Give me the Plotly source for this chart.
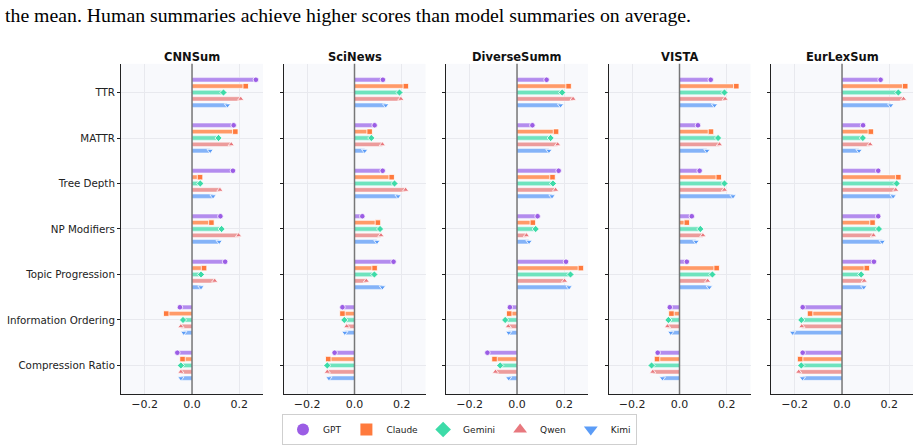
import plotly.graph_objects as go

# ---------------- data ----------------
metrics = ["TTR", "MATTR", "Tree Depth", "NP Modifiers", "Topic Progression",
           "Information Ordering", "Compression Ratio"]
datasets = ["CNNSum", "SciNews", "DiverseSumm", "VISTA", "EurLexSum"]
models = ["GPT", "Claude", "Gemini", "Qwen", "Kimi"]

# values per model in metric order
cnnsum = {
    "GPT":    [0.270, 0.176, 0.173, 0.120, 0.140, -0.051, -0.062],
    "Claude": [0.227, 0.183, 0.034, 0.082, 0.051, -0.109, -0.040],
    "Gemini": [0.133, 0.112, 0.035, 0.125, 0.038, -0.038, -0.047],
    "Qwen":   [0.206, 0.166, 0.118, 0.197, 0.096, -0.047, -0.047],
    "Kimi":   [0.150, 0.077, 0.089, 0.115, 0.038, -0.035, -0.047],
}
scinews = {
    "GPT":    [0.120, 0.085, 0.119, 0.033, 0.165, -0.051, -0.084],
    "Claude": [0.217, 0.064, 0.157, 0.099, 0.085, -0.051, -0.111],
    "Gemini": [0.190, 0.071, 0.169, 0.108, 0.084, -0.043, -0.115],
    "Qwen":   [0.196, 0.118, 0.216, 0.112, 0.050, -0.033, -0.115],
    "Kimi":   [0.132, 0.043, 0.184, 0.095, 0.118, -0.041, -0.108],
}
diversesumm = {
    "GPT":    [0.125, 0.065, 0.176, 0.087, 0.207, -0.030, -0.125],
    "Claude": [0.218, 0.165, 0.150, 0.067, 0.270, -0.033, -0.095],
    "Gemini": [0.191, 0.142, 0.152, 0.079, 0.226, -0.050, -0.071],
    "Qwen":   [0.237, 0.172, 0.163, 0.040, 0.201, -0.037, -0.091],
    "Kimi":   [0.184, 0.135, 0.148, 0.051, 0.220, -0.035, -0.035],
}
vista = {
    "GPT":    [0.132, 0.078, 0.085, 0.052, 0.031, -0.041, -0.092],
    "Claude": [0.240, 0.133, 0.166, 0.031, 0.157, -0.034, -0.095],
    "Gemini": [0.190, 0.163, 0.190, 0.088, 0.139, -0.047, -0.118],
    "Qwen":   [0.193, 0.169, 0.190, 0.099, 0.119, -0.051, -0.113],
    "Kimi":   [0.148, 0.116, 0.226, 0.070, 0.126, -0.037, -0.072],
}
eurlexsum = {
    "GPT":    [0.163, 0.089, 0.153, 0.153, 0.135, -0.166, -0.166],
    "Claude": [0.267, 0.122, 0.238, 0.129, 0.105, -0.135, -0.177],
    "Gemini": [0.238, 0.088, 0.231, 0.156, 0.081, -0.172, -0.172],
    "Qwen":   [0.260, 0.119, 0.227, 0.133, 0.094, -0.170, -0.183],
    "Kimi":   [0.206, 0.072, 0.216, 0.170, 0.092, -0.209, -0.167],
}
panel_data = [cnnsum, scinews, diversesumm, vista, eurlexsum]

x_ticks = [-0.2, 0.0, 0.2]

# ---------------- style ----------------
marker_colors = {"GPT": "#9B5DE5", "Claude": "#FF7A3D", "Gemini": "#3DDBA8",
                 "Qwen": "#E8787E", "Kimi": "#5B9CF7"}
bar_colors = {"GPT": "#B38CEE", "Claude": "#FF9A68", "Gemini": "#6FE3BE",
              "Qwen": "#EC9C9C", "Kimi": "#84B3F8"}
symbols = {"GPT": "circle", "Claude": "square", "Gemini": "diamond",
           "Qwen": "triangle-up", "Kimi": "triangle-down"}
offsets = [-0.28, -0.14, 0.0, 0.14, 0.28]

W, H = 919, 445
panel_left0, panel_w, panel_step = 121, 142, 162.5
plot_top, plot_bottom = 64, 395
ydom = [1 - plot_bottom / H, 1 - plot_top / H]

fig = go.Figure()

for j, (name, data) in enumerate(zip(datasets, panel_data)):
    xa = "x" if j == 0 else f"x{j+1}"
    ya = "y" if j == 0 else f"y{j+1}"
    for k, m in enumerate(models):
        ypos = [i + offsets[k] for i in range(len(metrics))]
        fig.add_trace(go.Bar(
            x=data[m], y=ypos, orientation="h", width=0.095,
            marker=dict(color=bar_colors[m], line=dict(color="rgba(255,255,255,0.8)", width=0.6)),
            xaxis=xa, yaxis=ya, showlegend=False, hoverinfo="skip"))
        fig.add_trace(go.Scatter(
            x=data[m], y=ypos, mode="markers",
            marker=dict(symbol=symbols[m], size=5.5, color=marker_colors[m],
                        line=dict(color="white", width=0.8)),
            xaxis=xa, yaxis=ya, showlegend=False, hoverinfo="skip"))

# legend entries
for m in models:
    fig.add_trace(go.Scatter(x=[None], y=[None], mode="markers", name=m,
                             marker=dict(symbol=symbols[m], size=9, color=marker_colors[m])))

layout = dict(
    width=W, height=H, margin=dict(l=0, r=0, t=0, b=0),
    paper_bgcolor="white", plot_bgcolor="#F8F9FC",
    barmode="overlay",
    font=dict(family="DejaVu Sans", size=11, color="#222"),
    legend=dict(orientation="h", x=0.5, xanchor="center", y=1 - 430 / H, yanchor="middle",
                bordercolor="#CFCFCF", borderwidth=1, bgcolor="white",
                font=dict(size=9, family="DejaVu Sans"), itemsizing="constant"),
)
shapes = []
annotations = []
for j, name in enumerate(datasets):
    left = panel_left0 + j * panel_step
    xdom = [left / W, (left + panel_w) / W]
    sfx = "" if j == 0 else str(j + 1)
    layout[f"xaxis{sfx}"] = dict(
        domain=xdom, range=[-0.3, 0.3], tickvals=x_ticks, tickformat=".1f",
        showgrid=True, gridcolor="#E8E9EE", gridwidth=0.8, zeroline=False,
        showline=True, linecolor="#222", linewidth=1, ticks="", ticklen=0,
        tickfont=dict(size=11, color="#222"), anchor="y" + sfx, fixedrange=True)
    layout[f"yaxis{sfx}"] = dict(
        domain=ydom, range=[6.63, -0.63], tickvals=list(range(len(metrics))),
        ticktext=metrics, showticklabels=(j == 0),
        showgrid=True, gridcolor="#E8E9EE", gridwidth=0.8, zeroline=False,
        showline=True, linecolor="#222", linewidth=1, ticks="outside", ticklen=3,
        tickcolor="#222", tickfont=dict(size=10.3, color="#222"),
        anchor="x" + sfx, fixedrange=True)
    shapes.append(dict(type="line", xref="x" + sfx, yref=f"y{sfx} domain",
                       x0=0, x1=0, y0=0, y1=1, layer="above",
                       line=dict(color="rgba(90,90,90,0.8)", width=1.5)))
    annotations.append(dict(text=f"<b>{name}</b>", x=(xdom[0] + xdom[1]) / 2, y=1 - 57 / H,
                            xref="paper", yref="paper", xanchor="center", yanchor="middle",
                            showarrow=False, font=dict(size=11.5, family="DejaVu Sans", color="#111")))

annotations.append(dict(
    text="the mean. Human summaries achieve higher scores than model summaries on average.",
    x=3 / W, y=1 - 15 / H, xref="paper", yref="paper", xanchor="left", yanchor="middle",
    showarrow=False, font=dict(size=19.8, family="Liberation Serif", color="black")))

layout["shapes"] = shapes
layout["annotations"] = annotations
fig.update_layout(**layout)

fig.write_html("out.html")
